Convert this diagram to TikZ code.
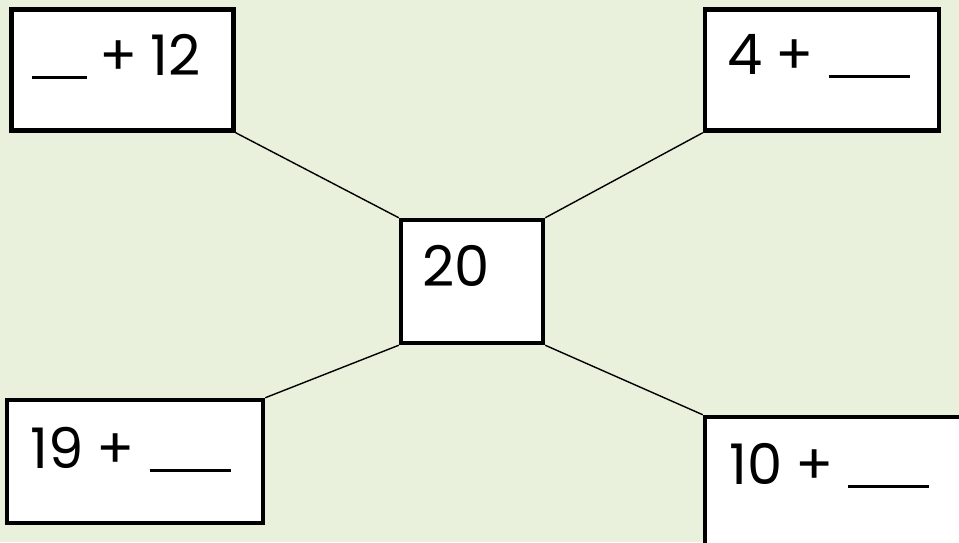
\documentclass[tikz,border=0pt]{standalone}
\usepackage{fontspec}
\setmainfont{Poppins}
\definecolor{bgcol}{RGB}{233,241,221}
\tikzset{
  boxnode/.style={draw=black, fill=white, line width=4.5pt, rectangle, inner sep=0pt},
  link/.style={draw=black, line width=1.4pt},
  txt/.style={anchor=base west, inner sep=0pt, font=\fontsize{56}{64}\selectfont},
}
\newcommand{\blank}[1]{\rule[-4pt]{#1pt}{3pt}}
\begin{document}
\begin{tikzpicture}[x=1pt,y=-1pt]
\fill[bgcol] (0,0) rectangle (959,542);
\useasboundingbox (0,0) rectangle (959,542);
\clip (0,0) rectangle (959,542);
% boxes
\node[boxnode, minimum width=222pt, minimum height=121pt] (tl) at (122.5,70) {};
\node[boxnode, minimum width=234pt, minimum height=121pt] (tr) at (822,70) {};
\node[boxnode, minimum width=142pt, minimum height=123pt] (c) at (472,281.5) {};
\node[boxnode, minimum width=256pt, minimum height=123pt] (bl) at (135,461.5) {};
\node[boxnode, minimum width=262pt, minimum height=130pt] (br) at (836,482) {};
% connectors
\draw[link] (tl.south east) -- (c.north west);
\draw[link] (tr.south west) -- (c.north east);
\draw[link] (bl.north east) -- (c.south west);
\draw[link] (br.north west) -- (c.south east);
% texts
\node[txt] (ttl) at (32,75) {\blank{55}\hspace{12pt}+\hspace{-2pt} 12};
\node[txt] (ttr) at (727,74) {4\hspace{-2pt} + \blank{81}};
\node[txt] (tc) at (422,286) {20};
\node[txt] (tbl) at (30,468) {19\hspace{-2pt} + \blank{81}};
\node[txt] (tbr) at (729,484) {10\hspace{-2pt} + \blank{81}};
\end{tikzpicture}
\end{document}
